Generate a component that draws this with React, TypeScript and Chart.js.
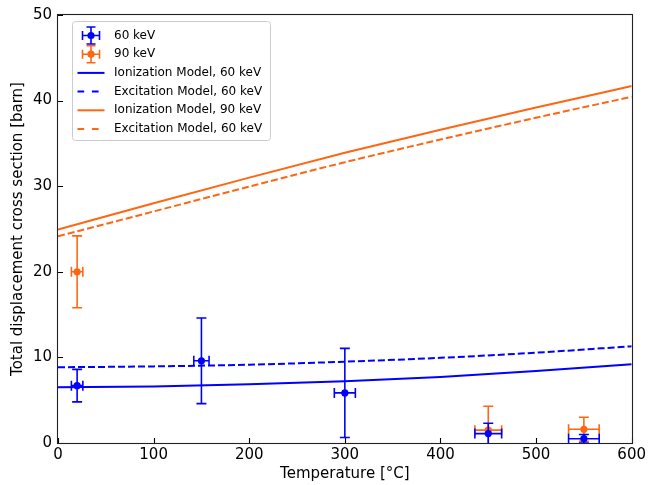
import React, { useEffect, useRef } from "react";
import { Chart, registerables } from "chart.js";
Chart.register(...registerables);

const FONT = "'DejaVu Sans', sans-serif";
const BLUE = "#0000ff";
const ORANGE = "#ff6612";

const modelTemps = [0, 100, 200, 300, 400, 500, 600];
const ion60 = [6.5, 6.6, 6.85, 7.2, 7.7, 8.4, 9.2];
const exc60 = [8.85, 8.95, 9.15, 9.5, 9.95, 10.55, 11.3];
const ion90 = [24.95, 28.0, 31.0, 33.9, 36.6, 39.2, 41.7];
const exc90 = [24.15, 27.05, 29.95, 32.8, 35.45, 38.0, 40.45];

const temps60 = [20, 150, 300, 450, 550];
const vals60 = [6.7, 9.6, 5.85, 1.1, 0.5];
const yErr60 = [1.9, 5.0, 5.2, 1.2, 0.5];
const xErr60 = [6, 8, 11, 14, 16];

const temps90 = [20, 450, 550];
const vals90 = [20.0, 1.5, 1.6];
const yErr90 = [4.2, 2.8, 1.4];
const xErr90 = [6, 14, 16];

const xTicks = [0, 100, 200, 300, 400, 500, 600];
const yTicks = [0, 10, 20, 30, 40, 50];

const pts = (xs: number[], ys: number[]) => xs.map((x, i) => ({ x, y: ys[i] }));

const errorBarPlugin = {
  id: "errbars",
  beforeDatasetDraw(chart: any, args: any) {
    const ds = chart.data.datasets[args.index] as any;
    if (!ds.errX) return;
    const { ctx, chartArea, scales } = chart;
    const xs = scales.x, ys = scales.y;
    ctx.save();
    ctx.beginPath();
    ctx.rect(chartArea.left, chartArea.top, chartArea.right - chartArea.left, chartArea.bottom - chartArea.top);
    ctx.clip();
    ctx.strokeStyle = ds.backgroundColor;
    ctx.lineWidth = 1.6;
    const cap = 5;
    ds.data.forEach((p: any, i: number) => {
      const px = xs.getPixelForValue(p.x);
      const py = ys.getPixelForValue(p.y);
      const x0 = xs.getPixelForValue(p.x - ds.errX[i]);
      const x1 = xs.getPixelForValue(p.x + ds.errX[i]);
      const y0 = ys.getPixelForValue(p.y - ds.errY[i]);
      const y1 = ys.getPixelForValue(p.y + ds.errY[i]);
      ctx.beginPath();
      ctx.moveTo(x0, py); ctx.lineTo(x1, py);
      ctx.moveTo(px, y0); ctx.lineTo(px, y1);
      ctx.moveTo(x0, py - cap); ctx.lineTo(x0, py + cap);
      ctx.moveTo(x1, py - cap); ctx.lineTo(x1, py + cap);
      ctx.moveTo(px - cap, y0); ctx.lineTo(px + cap, y0);
      ctx.moveTo(px - cap, y1); ctx.lineTo(px + cap, y1);
      ctx.stroke();
    });
    ctx.restore();
  },
};

const framePlugin = {
  id: "frame",
  afterDraw(chart: any) {
    const { ctx, chartArea, scales } = chart;
    const { left, right, top, bottom } = chartArea;
    ctx.save();
    ctx.strokeStyle = "#000";
    ctx.lineWidth = 1.1;
    ctx.beginPath();
    scales.x.ticks.forEach((t: any) => {
      const px = Math.round(scales.x.getPixelForValue(t.value)) + 0.5;
      ctx.moveTo(px, bottom); ctx.lineTo(px, bottom - 5);
    });
    scales.y.ticks.forEach((t: any) => {
      const py = Math.round(scales.y.getPixelForValue(t.value)) + 0.5;
      ctx.moveTo(left, py); ctx.lineTo(left + 5, py);
    });
    ctx.stroke();
    ctx.strokeStyle = "#222";
    ctx.strokeRect(Math.round(left) - 0.5, Math.round(top) - 0.5, Math.round(right - left) + 1, Math.round(bottom - top) + 1);
    ctx.restore();
  },
};

const legendPlugin = {
  id: "customLegend",
  afterDraw(chart: any) {
    const { ctx, chartArea } = chart;
    const bx = chartArea.left + 14.5, by = chartArea.top + 6.5, bw = 198, bh = 119;
    ctx.save();
    ctx.fillStyle = "rgba(255,255,255,0.8)";
    ctx.strokeStyle = "#cccccc";
    ctx.lineWidth = 1;
    ctx.beginPath();
    (ctx as any).roundRect(bx, by, bw, bh, 3);
    ctx.fill();
    ctx.stroke();
    const items = chart.data.datasets;
    ctx.font = `12px ${FONT}`;
    ctx.textBaseline = "middle";
    const hx0 = bx + 5, hx1 = bx + 32, hc = bx + 18.5, tx = bx + 41.5;
    items.forEach((d: any, row: number) => {
      const y = by + 14 + row * 18.7;
      const color = d.borderColor || d.backgroundColor;
      if (d.errX) {
        ctx.strokeStyle = d.backgroundColor;
        ctx.fillStyle = d.backgroundColor;
        ctx.lineWidth = 1.6;
        ctx.beginPath();
        ctx.moveTo(hc - 8.5, y); ctx.lineTo(hc + 8.5, y);
        ctx.moveTo(hc, y - 8.5); ctx.lineTo(hc, y + 8.5);
        ctx.moveTo(hc - 8.5, y - 4.5); ctx.lineTo(hc - 8.5, y + 4.5);
        ctx.moveTo(hc + 8.5, y - 4.5); ctx.lineTo(hc + 8.5, y + 4.5);
        ctx.moveTo(hc - 4.5, y - 8.5); ctx.lineTo(hc + 4.5, y - 8.5);
        ctx.moveTo(hc - 4.5, y + 8.5); ctx.lineTo(hc + 4.5, y + 8.5);
        ctx.stroke();
        ctx.beginPath();
        ctx.arc(hc, y, 3.6, 0, Math.PI * 2);
        ctx.fill();
      } else {
        ctx.strokeStyle = color;
        ctx.lineWidth = 2;
        ctx.setLineDash(d.borderDash && d.borderDash.length ? [6.7, 7.7] : []);
        ctx.beginPath();
        ctx.moveTo(hx0, y); ctx.lineTo(hx1, y);
        ctx.stroke();
        ctx.setLineDash([]);
      }
      ctx.fillStyle = "#000";
      ctx.fillText(d.label, tx, y);
    });
    ctx.restore();
  },
};

export default function App() {
  const ref = useRef<HTMLCanvasElement | null>(null);
  useEffect(() => {
    document.body.style.margin = "0";
    const canvas = ref.current!;
    const lineDs = (label: string, ys: number[], color: string, dash: number[]) => ({
      type: "line" as const,
      label,
      data: pts(modelTemps, ys),
      borderColor: color,
      backgroundColor: color,
      borderWidth: 2,
      borderDash: dash,
      pointRadius: 0,
      cubicInterpolationMode: "monotone" as const,
      showLine: true,
    });
    const chart = new Chart(canvas, {
      type: "scatter",
      data: {
        datasets: [
          {
            label: "60 keV",
            data: pts(temps60, vals60),
            backgroundColor: BLUE,
            borderColor: BLUE,
            pointRadius: 3.6,
            pointBorderWidth: 0,
            errX: xErr60,
            errY: yErr60,
          } as any,
          {
            label: "90 keV",
            data: pts(temps90, vals90),
            backgroundColor: ORANGE,
            borderColor: ORANGE,
            pointRadius: 3.6,
            pointBorderWidth: 0,
            errX: xErr90,
            errY: yErr90,
          } as any,
          lineDs("Ionization Model, 60 keV", ion60, BLUE, []),
          lineDs("Excitation Model, 60 keV", exc60, BLUE, [7, 3]),
          lineDs("Ionization Model, 90 keV", ion90, ORANGE, []),
          lineDs("Excitation Model, 60 keV", exc90, ORANGE, [7, 3]),
        ],
      },
      options: {
        animation: false,
        responsive: false,
        maintainAspectRatio: false,
        layout: { autoPadding: false, padding: { top: 15, right: 15, left: 0, bottom: 0 } },
        plugins: { legend: { display: false }, tooltip: { enabled: false } },
        scales: {
          x: {
            type: "linear",
            min: 0,
            max: 600,
            afterBuildTicks: (s: any) => { s.ticks = xTicks.map((v) => ({ value: v })); },
            ticks: { font: { family: FONT, size: 15 }, color: "#000", padding: 3, maxRotation: 0 },
            grid: { display: false, drawTicks: false },
            border: { display: false },
            title: { display: true, text: "Temperature [°C]", font: { family: FONT, size: 15 }, color: "#000", padding: { top: 0, bottom: 2 } },
            afterFit: (s: any) => { s.height = 42; },
          },
          y: {
            type: "linear",
            min: 0,
            max: 50,
            afterBuildTicks: (s: any) => { s.ticks = yTicks.map((v) => ({ value: v })); },
            ticks: { font: { family: FONT, size: 15 }, color: "#000", padding: 6 },
            grid: { display: false, drawTicks: false },
            border: { display: false },
            title: { display: true, text: "Total displacement cross section [barn]", font: { family: FONT, size: 15 }, color: "#000", padding: { top: 9, bottom: 0 } },
            afterFit: (s: any) => { s.width = 58; },
          },
        },
      } as any,
      plugins: [errorBarPlugin, framePlugin, legendPlugin],
    });
    return () => chart.destroy();
  }, []);
  return (
    <div style={{ width: 649, height: 485, background: "#fff" }}>
      <canvas ref={ref} width={649} height={485} style={{ display: "block" }} />
    </div>
  );
}
